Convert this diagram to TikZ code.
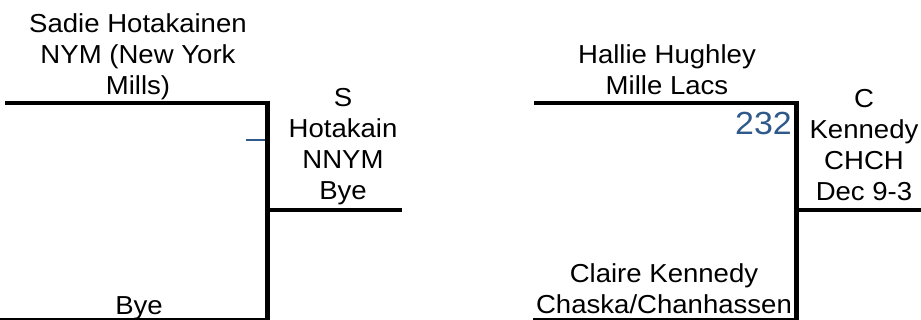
\documentclass[tikz,border=0pt]{standalone}
\usepackage{fontspec}
\setmainfont{Liberation Sans}[FakeStretch=1.06]
\definecolor{numblue}{RGB}{46,89,138}
\begin{document}
\begin{tikzpicture}[x=1pt,y=-1pt,
  thickln/.style={line width=4.5pt},
  thinln/.style={line width=1.2pt},
  lbl/.style={inner sep=0pt,align=center,anchor=base,font=\fontsize{26}{31}\selectfont}]
\useasboundingbox (0,0) rectangle (921,320);
% left bracket
\coordinate (l1) at (5,103);
\coordinate (l2) at (267.5,103);
\coordinate (l2t) at (267.5,100.75);
\coordinate (l3) at (267.5,320);
\coordinate (lm) at (267.5,210);
\coordinate (lo) at (402,210);
\coordinate (lb1) at (0,319);
\coordinate (lb2) at (265,319);
\coordinate (bl1) at (246,140);
\coordinate (bl2) at (265,140);
\draw[thickln] (l1) -- (l2);
\draw[thickln] (l2t) -- (l3);
\draw[thickln] (lm) -- (lo);
\draw[thinln] (lb1) -- (lb2);
\draw[numblue,line width=1.5pt] (bl1) -- (bl2);
% right bracket
\coordinate (r1) at (534,103);
\coordinate (r2) at (796.5,103);
\coordinate (r2t) at (796.5,100.75);
\coordinate (r3) at (796.5,320);
\coordinate (rm) at (796.5,210);
\coordinate (ro) at (921,210);
\coordinate (rb1) at (533,319);
\coordinate (rb2) at (794,319);
\draw[thickln] (r1) -- (r2);
\draw[thickln] (r2t) -- (r3);
\draw[thickln] (rm) -- (ro);
\draw[thinln] (rb1) -- (rb2);
% texts (anchor base = baseline of the last line)
\node[lbl] (sadie) at (138,95) {Sadie Hotakainen\\NYM (New York\\Mills)};
\node[lbl] (winL) at (343,200) {S\\Hotakain\\NNYM\\Bye};
\node[lbl] (bye) at (139,315) {Bye};
\node[lbl] (hallie) at (667,95) {Hallie Hughley\\Mille Lacs};
\node[inner sep=0pt,anchor=base east,text=numblue,font=\fontsize{32}{38}\selectfont] (num) at (792,135) {232};
\node[lbl] (winR) at (864,201) {C\\Kennedy\\CHCH\\Dec 9-3};
\node[lbl] (claire) at (664,313) {Claire Kennedy\\Chaska/Chanhassen};
\end{tikzpicture}
\end{document}
